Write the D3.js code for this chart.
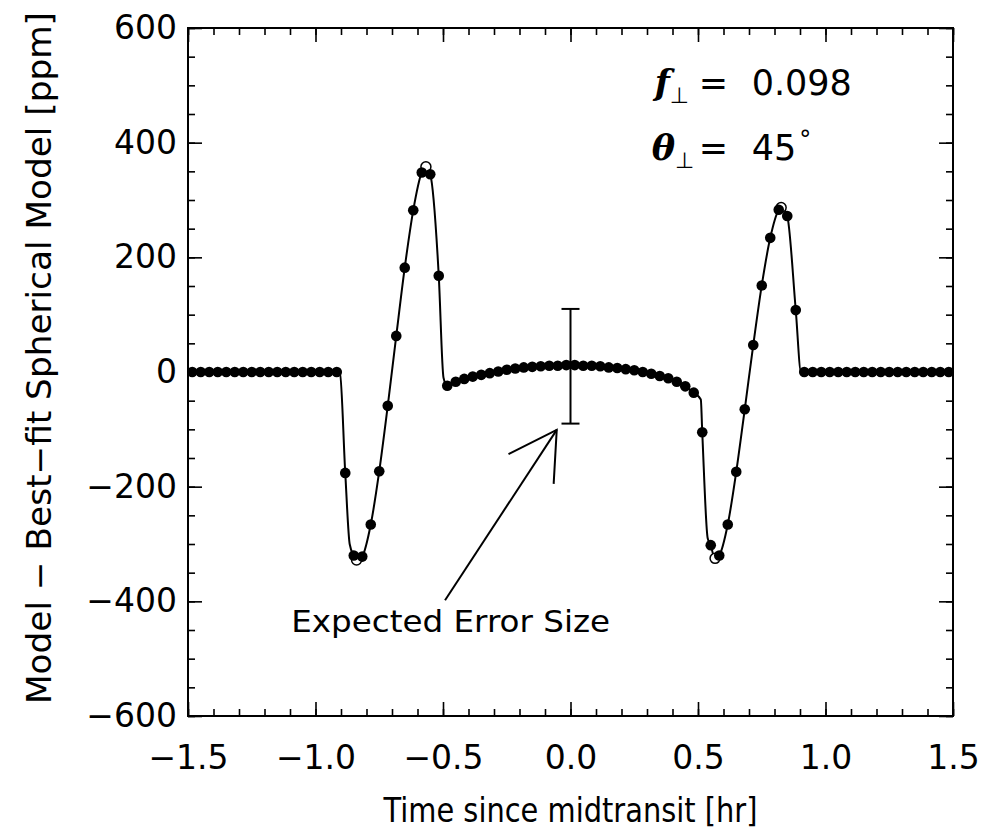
<!DOCTYPE html>
<html>
<head>
<meta charset="utf-8">
<script src="https://cdn.jsdelivr.net/npm/d3@7"></script>
<style>
body { margin: 0; background: #fff; }
svg { display: block; font-family: "DejaVu Sans", sans-serif; }
</style>
</head>
<body>
<script>
// 2-minute cadence, samples centred on mid-transit
const sampleSteps = d3.range(-44.5, 45, 1);
const samplesPerHour = 30;

// residual (model - best-fit spherical model) at each sample, ppm
const residual = [
  0, 0, 0, 0, 0, 0, 0, 0, 0, 0, 0, 0, 0, 0, 0, 0, 0, 0,
  -176, -320, -322, -266, -173, -59, 63, 182, 282, 348, 345, 168, -24,
  -17, -12, -8, -5, -2, 1, 4, 6, 8, 9, 10, 11, 11, 12,
  12, 11, 11, 10, 8, 7, 5, 3, 0, -3, -7, -11, -17, -25,
  -36, -105, -302, -320, -266, -174, -65, 47, 151, 234, 283, 272, 108,
  0, 0, 0, 0, 0, 0, 0, 0, 0, 0, 0, 0, 0, 0, 0, 0, 0, 0
];

// extra points of the continuous model curve between samples
const knotTimes  = [-0.904, -0.866, -0.838, -0.567, -0.498, 0.511, 0.538, 0.566, 0.828, 0.904];
const knotValues = [-3, -300, -330, 358, -10, -48, -290, -326, 288, 0];

// open symbols at the curve extrema
const extremaTimes  = [-0.839, -0.567, 0.567, 0.826];
const extremaValues = [-328, 358, -325, 287];

const xMajor = [-1.5, -1.0, -0.5, 0.0, 0.5, 1.0, 1.5];
const xMinor = d3.range(-15, 16).map(d => d / 10);
const yMajor = [-600, -400, -200, 0, 200, 400, 600];
const yMinor = d3.range(-600, 601, 50);

const errCenter = 10, errHalf = 100;
const fPerp = "0.098", thetaPerp = "45";

const width = 1000, height = 840;
const margin = {top: 28, right: 47, bottom: 124, left: 188};

const x = d3.scaleLinear([-1.5, 1.5], [margin.left, width - margin.right]);
const y = d3.scaleLinear([-600, 600], [height - margin.bottom, margin.top]);

const dots = sampleSteps.map((k, i) => [k / samplesPerHour, residual[i]]);
const curve = dots.concat(knotTimes.map((t, i) => [t, knotValues[i]]))
  .sort((a, b) => a[0] - b[0]);

const svg = d3.select("body").append("svg")
    .attr("width", width)
    .attr("height", height);

svg.append("path")
    .datum(curve)
    .attr("fill", "none")
    .attr("stroke", "#000")
    .attr("stroke-width", 2)
    .attr("d", d3.line().x(d => x(d[0])).y(d => y(d[1])).curve(d3.curveMonotoneX));

svg.append("g").selectAll("circle")
  .data(extremaTimes.map((t, i) => [t, extremaValues[i]]))
  .join("circle")
    .attr("cx", d => x(d[0]))
    .attr("cy", d => y(d[1]))
    .attr("r", 5)
    .attr("fill", "#fff")
    .attr("stroke", "#000")
    .attr("stroke-width", 1.5);

svg.append("g").selectAll("circle")
  .data(dots)
  .join("circle")
    .attr("cx", d => x(d[0]))
    .attr("cy", d => y(d[1]))
    .attr("r", 5.3)
    .attr("fill", "#000");

// axes: ticks inward on all four sides
function styleAxis(g) {
  g.select(".domain").remove();
  g.selectAll(".tick line").attr("stroke", "#000").attr("stroke-width", 1.6);
  g.selectAll(".tick text")
    .attr("fill", "#000")
    .attr("font-family", "DejaVu Sans, sans-serif")
    .attr("font-size", 33);
}

const fmtX = d3.format(".1f");

svg.append("g").attr("transform", `translate(0,${y(-600)})`)
    .call(d3.axisBottom(x).tickValues(xMinor).tickSize(-7).tickFormat(""))
    .call(styleAxis);
svg.append("g").attr("transform", `translate(0,${y(-600)})`)
    .call(d3.axisBottom(x).tickValues(xMajor).tickSize(-14).tickPadding(30).tickFormat(fmtX))
    .call(styleAxis);
svg.append("g").attr("transform", `translate(0,${y(600)})`)
    .call(d3.axisTop(x).tickValues(xMinor).tickSize(-7).tickFormat(""))
    .call(styleAxis);
svg.append("g").attr("transform", `translate(0,${y(600)})`)
    .call(d3.axisTop(x).tickValues(xMajor).tickSize(-14).tickFormat(""))
    .call(styleAxis);

svg.append("g").attr("transform", `translate(${x(-1.5)},0)`)
    .call(d3.axisLeft(y).tickValues(yMinor).tickSize(-7).tickFormat(""))
    .call(styleAxis);
svg.append("g").attr("transform", `translate(${x(-1.5)},0)`)
    .call(d3.axisLeft(y).tickValues(yMajor).tickSize(-14).tickPadding(11).tickFormat(d3.format("d")))
    .call(styleAxis);
svg.append("g").attr("transform", `translate(${x(1.5)},0)`)
    .call(d3.axisRight(y).tickValues(yMinor).tickSize(-7).tickFormat(""))
    .call(styleAxis);
svg.append("g").attr("transform", `translate(${x(1.5)},0)`)
    .call(d3.axisRight(y).tickValues(yMajor).tickSize(-14).tickFormat(""))
    .call(styleAxis);

svg.append("rect")
    .attr("x", x(-1.5))
    .attr("y", y(600))
    .attr("width", x(1.5) - x(-1.5))
    .attr("height", y(-600) - y(600))
    .attr("fill", "none")
    .attr("stroke", "#000")
    .attr("stroke-width", 2);

// axis titles
svg.append("text")
    .attr("x", x(0))
    .attr("y", 822)
    .attr("text-anchor", "middle")
    .attr("font-size", 33)
    .attr("textLength", 374)
    .attr("lengthAdjust", "spacingAndGlyphs")
    .text("Time since midtransit [hr]");

svg.append("text")
    .attr("transform", `translate(51,${(y(600) + y(-600)) / 2 - 14}) rotate(-90)`)
    .attr("text-anchor", "middle")
    .attr("font-size", 33)
    .attr("textLength", 692)
    .attr("lengthAdjust", "spacingAndGlyphs")
    .text("Model \u2212 Best\u2212fit Spherical Model [ppm]");

// expected error bar
const ex = x(0), capW = 9;
const eb = svg.append("g").attr("stroke", "#000").attr("stroke-width", 2);
eb.append("line").attr("x1", ex).attr("x2", ex)
    .attr("y1", y(errCenter - errHalf)).attr("y2", y(errCenter + errHalf));
eb.append("line").attr("x1", ex - capW).attr("x2", ex + capW)
    .attr("y1", y(errCenter + errHalf)).attr("y2", y(errCenter + errHalf));
eb.append("line").attr("x1", ex - capW).attr("x2", ex + capW)
    .attr("y1", y(errCenter - errHalf)).attr("y2", y(errCenter - errHalf));

// arrow pointing to the bar
const tail = [x(-0.492), y(-398)], tip = [x(-0.054), y(-101)];
const ang = Math.atan2(tail[1] - tip[1], tail[0] - tip[0]);
const headLen = 54, spread = Math.PI / 6;
const ar = svg.append("g").attr("stroke", "#000").attr("stroke-width", 2).attr("fill", "none");
ar.append("line").attr("x1", tail[0]).attr("y1", tail[1]).attr("x2", tip[0]).attr("y2", tip[1]);
ar.append("polyline").attr("points", [
  [tip[0] + headLen * Math.cos(ang + spread), tip[1] + headLen * Math.sin(ang + spread)],
  tip,
  [tip[0] + headLen * Math.cos(ang - spread), tip[1] + headLen * Math.sin(ang - spread)]
].map(p => p.join(",")).join(" "));

svg.append("text")
    .attr("x", x(-0.47))
    .attr("y", y(-454))
    .attr("text-anchor", "middle")
    .attr("font-size", 30)
    .attr("textLength", 319)
    .attr("lengthAdjust", "spacingAndGlyphs")
    .text("Expected Error Size");

// parameter labels
const lx = x(0.33), ly1 = y(483), ly2 = y(370);
const t1 = svg.append("text").attr("y", ly1).attr("font-size", 35).attr("fill", "#000");
t1.append("tspan").attr("x", lx).attr("font-family", "DejaVu Serif, serif")
    .attr("font-style", "italic").attr("font-weight", "bold").text("f");
t1.append("tspan").attr("dy", 8).attr("font-size", 22).attr("font-family", "DejaVu Sans, sans-serif").text("\u22A5");
t1.append("tspan").attr("x", lx + 44).attr("dy", -8).text("=");
t1.append("tspan").attr("x", lx + 97).text(fPerp);

const t2 = svg.append("text").attr("y", ly2).attr("font-size", 35).attr("fill", "#000");
t2.append("tspan").attr("x", lx - 3).attr("font-family", "DejaVu Serif, serif")
    .attr("font-style", "italic").attr("font-weight", "bold").text("\u03B8");
t2.append("tspan").attr("dy", 8).attr("font-size", 22).attr("font-family", "DejaVu Sans, sans-serif").text("\u22A5");
t2.append("tspan").attr("x", lx + 44).attr("dy", -8).text("=");
t2.append("tspan").attr("x", lx + 97).text(thetaPerp);
t2.append("tspan").attr("dx", 3).attr("dy", -12).attr("font-size", 24).text("\u00B0");
</script>
</body>
</html>
